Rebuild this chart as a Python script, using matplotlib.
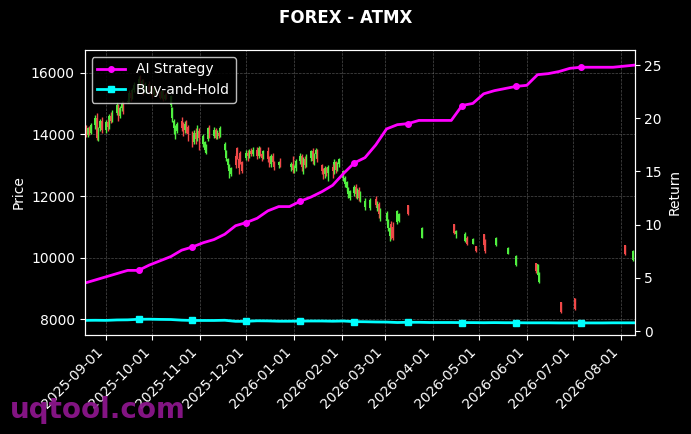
import matplotlib
matplotlib.use('Agg')
import matplotlib.pyplot as plt
import matplotlib.dates as mdates
import numpy as np
import pandas as pd

# candle dates: dense business days, then sparse sessions
dates_a = pd.bdate_range('2025-08-18', '2025-12-23')
dates_b = pd.bdate_range('2025-12-30', '2026-02-13')
dates_c = pd.to_datetime([
    '2026-02-16', '2026-02-19', '2026-02-23', '2026-02-24', '2026-02-25', '2026-02-26',
    '2026-03-02', '2026-03-03', '2026-03-04', '2026-03-05', '2026-03-06', '2026-03-09',
    '2026-03-10', '2026-03-16', '2026-03-25', '2026-04-15', '2026-04-16', '2026-04-22',
    '2026-04-23', '2026-04-27', '2026-04-29', '2026-05-04', '2026-05-05', '2026-05-12',
    '2026-05-20', '2026-05-25', '2026-06-07', '2026-06-08', '2026-06-09', '2026-06-23',
    '2026-07-02', '2026-08-04', '2026-08-09'])
candle_dates = dates_a.append(dates_b).append(dates_c)

opens = [
    14100, 14250, 13980, 14200, 14050,  14300, 14550, 13900, 14200, 14450,
    14150, 14400, 14250, 14600, 14450,  14700, 14950, 14600, 14850, 15000,
    15050, 15100, 15350, 15200, 15450,  15600, 15800, 15550, 15750, 15400,
    15650, 15400, 15550, 15300, 15500,  15350, 15200, 15400, 15150, 15300,
    14950, 14550, 14200, 13950, 14100,  14450, 14300, 14150, 14400, 14250,
    14000, 13750, 14050, 13850, 14100,  13700, 13500, 13400, 13850, 14200,
    13950, 14150, 13900, 14050, 13950,  13500, 13250, 13000, 12800, 12700,
    13300, 13550, 13200, 13400, 13100,  13250, 13400, 13300, 13450, 13350,
    13500, 13300, 13550, 13350, 13250,  13450, 13200, 13050, 13300, 13100,
    13000, 13100,
    12950, 13050, 12850, 12900,
    13150, 13300, 12950, 13200, 13000,  13250, 13450, 13150, 13350, 13500,
    13000, 12800, 12700, 12900, 12750,  12950, 12800, 13100, 12850, 13050,
    12600, 12400, 12250, 12050, 11950,  12100, 12300, 12050, 12200, 11950,
    11650, 11620, 11900, 11600, 11750, 11400, 11200, 10950, 10700, 11100, 11000,
    11150, 11200, 11700, 10650, 11090, 10750, 10550, 10650, 10450, 10370, 10760,
    10550, 10400, 10110, 9750, 9820, 9430, 9200, 8550, 8680, 10410, 9920]
highs = [
    14320, 14300, 14250, 14280, 14380,  14650, 14700, 14260, 14520, 14560,
    14480, 14500, 14680, 14720, 14800,  15050, 15000, 14920, 15080, 15100,
    15180, 15450, 15420, 15520, 15700,  15900, 15950, 15820, 15800, 15700,
    15750, 15620, 15600, 15580, 15560,  15420, 15450, 15460, 15350, 15380,
    15300, 14900, 14500, 14300, 14420,  14570, 14400, 14450, 14480, 14300,
    14100, 14150, 14200, 14300, 14200,  14000, 13800, 13700, 14250, 14300,
    14250, 14200, 14150, 14100, 14280,  13750, 13500, 13250, 13050, 12950,
    13400, 13600, 13300, 13450, 13150,  13480, 13500, 13520, 13550, 13580,
    13600, 13620, 13580, 13400, 13500,  13600, 13300, 13350, 13400, 13150,
    13150, 13250,
    13100, 13300, 13000, 13200,
    13400, 13350, 13280, 13300, 13350,  13500, 13550, 13400, 13550, 13520,
    13050, 12900, 12980, 12950, 13000,  13050, 13200, 13150, 13100, 13250,
    12850, 12650, 12500, 12300, 12200,  12350, 12400, 12250, 12280, 12150,
    11950, 11920, 12000, 11850, 11800, 11600, 11500, 11250, 11000, 11200, 11150,
    11550, 11450, 11720, 11000, 11100, 10900, 10830, 10700, 10630, 10370, 10760,
    10600, 10670, 10340, 10080, 9830, 9800, 9530, 8550, 8680, 10420, 10240]
lows = [
    14020, 13930, 13920, 13990, 14000,  14180, 13820, 13780, 14100, 14050,
    14050, 14100, 14180, 14380, 14400,  14620, 14450, 14550, 14780, 14680,
    15030, 15060, 15100, 15150, 15380,  15500, 15480, 15450, 15300, 15350,
    15350, 15350, 15200, 15250, 15280,  15150, 15150, 15100, 15120, 15150,
    14900, 14400, 14000, 13850, 14050,  14100, 13950, 14050, 14050, 13800,
    13600, 13700, 13700, 13800, 13500,  13600, 13420, 13380, 13800, 13900,
    13880, 13850, 13860, 13900, 13920,  13450, 13150, 12900, 12600, 12650,
    12900, 13200, 12700, 13050, 12750,  13180, 13150, 13250, 13300, 13300,
    13200, 13250, 13300, 13150, 13200,  13100, 12950, 12950, 13050, 12850,
    12900, 12950,
    12800, 12750, 12750, 12800,
    13050, 12800, 12700, 12900, 12950,  13150, 13050, 13000, 13250, 13100,
    12700, 12550, 12600, 12650, 12500,  12600, 12700, 12750, 12800, 12950,
    12500, 12300, 12150, 11950, 11880,  12000, 11950, 11900, 11850, 11800,
    11550, 11560, 11650, 11500, 11300, 11200, 11100, 10850, 10550, 10600, 10580,
    11100, 11150, 11380, 10630, 10750, 10630, 10500, 10400, 10440, 10180, 10350,
    10150, 10380, 10100, 9740, 9500, 9420, 9170, 8200, 8290, 10080, 9900]
closes = [
    14250, 13980, 14200, 14050, 14300,  14550, 13900, 14200, 14450, 14150,
    14400, 14250, 14600, 14450, 14700,  14950, 14600, 14850, 15000, 14750,
    15100, 15350, 15200, 15450, 15600,  15800, 15550, 15750, 15400, 15650,
    15400, 15550, 15300, 15500, 15350,  15200, 15400, 15150, 15300, 15250,
    15250, 14850, 14450, 14250, 14350,  14200, 14100, 14350, 14150, 14000,
    13750, 14050, 13850, 14100, 13900,  13950, 13750, 13650, 14200, 13950,
    14150, 13900, 14100, 13950, 14200,  13700, 13450, 13200, 13000, 12900,
    13000, 13300, 12900, 13150, 12800,  13400, 13300, 13450, 13350, 13500,
    13300, 13550, 13350, 13250, 13450,  13200, 13050, 13300, 13100, 12950,
    13100, 13000,
    13050, 12850, 12900, 13150,
    13300, 12950, 13200, 13000, 13250,  13450, 13150, 13350, 13500, 13200,
    12800, 12700, 12900, 12750, 12950,  12800, 13100, 12850, 13050, 13200,
    12800, 12600, 12450, 12250, 12150,  12300, 12050, 12200, 11950, 12100,
    11850, 11880, 11700, 11800, 11400, 11500, 11450, 11200, 10950, 10700, 10650,
    11500, 11400, 11420, 10950, 10800, 10850, 10780, 10450, 10600, 10200, 10400,
    10200, 10650, 10320, 10050, 9550, 9780, 9500, 8220, 8320, 10120, 10200]

# weekly return series
return_dates = pd.date_range('2025-08-18', periods=52, freq='7D')
ai_return = [4.5, 4.8, 5.1, 5.4, 5.7, 5.7, 6.2, 6.6, 7.0, 7.6, 7.9, 8.3, 8.6, 9.1,
             9.9, 10.2, 10.6, 11.3, 11.7, 11.7, 12.2, 12.6, 13.1, 13.7, 14.8, 15.8,
             16.3, 17.5, 19.0, 19.4, 19.5, 19.8, 19.8, 19.8, 19.8, 21.2, 21.4, 22.3,
             22.6, 22.8, 23.0, 23.1, 24.1, 24.2, 24.4, 24.7, 24.8, 24.8, 24.8, 24.8,
             24.9, 25.0]
bh_return = [1.00, 1.01, 1.00, 1.04, 1.05, 1.10, 1.11, 1.09, 1.08, 1.02, 0.99, 0.99,
             0.99, 1.01, 0.91, 0.91, 0.96, 0.95, 0.92, 0.92, 0.93, 0.94, 0.94, 0.92,
             0.94, 0.88, 0.87, 0.85, 0.84, 0.80, 0.82, 0.82, 0.80, 0.80, 0.80, 0.79,
             0.79, 0.78, 0.79, 0.78, 0.78, 0.77, 0.77, 0.77, 0.76, 0.76, 0.76, 0.76,
             0.76, 0.77, 0.77, 0.77]

plt.style.use('dark_background')
fig, ax = plt.subplots(figsize=(6.91, 4.34), dpi=100)
fig.subplots_adjust(left=0.1224, right=0.9184, top=0.885, bottom=0.228)

o = np.array(opens)
h = np.array(highs)
l = np.array(lows)
c = np.array(closes)
up = c >= o
cols = np.where(up, '#50f040', '#f04848')
ax.vlines(candle_dates, l, h, colors=cols, linewidth=1.0)
ax.bar(candle_dates, np.abs(c - o), bottom=np.minimum(o, c), width=1.2,
       color=cols, linewidth=0)

ax.set_ylim(7480, 16750)
ax.set_yticks(np.arange(8000, 16001, 2000))
ax.set_ylabel('Price', color='white')
ax.grid(True, linestyle='--', color='gray', linewidth=0.5, alpha=0.6)

marks = [5, 10, 15, 20, 25, 30, 35, 40, 46]
ax2 = ax.twinx()
ax2.plot(return_dates, ai_return, color='magenta', linewidth=2, marker='o',
         markersize=4, markevery=marks, label='AI Strategy')
ax2.plot(return_dates, bh_return, color='cyan', linewidth=2, marker='s',
         markersize=4, markevery=marks, label='Buy-and-Hold')
ax2.set_ylim(-0.38, 26.43)
ax2.set_yticks(np.arange(0, 26, 5))
ax2.set_ylabel('Return', color='white')

ax.set_xlim(pd.Timestamp('2025-08-18'), pd.Timestamp('2026-08-10'))
ax.xaxis.set_major_locator(mdates.MonthLocator())
ax.xaxis.set_major_formatter(mdates.DateFormatter('%Y-%m-%d'))
plt.setp(ax.get_xticklabels(), rotation=45, ha='right')

leg = ax2.legend(loc='upper left', facecolor='black', edgecolor='#dddddd',
                 framealpha=0.85, fontsize=10)

fig.text(0.5, 0.958, 'FOREX - ATMX', ha='center', va='center',
         fontsize=12, fontweight='bold', color='white')
fig.text(0.014, 0.037, 'uqtool.com', ha='left', va='baseline', fontsize=20,
         fontweight='bold', color='#8b168b', alpha=0.95)

fig.savefig('out.png', dpi=100, facecolor='black')
